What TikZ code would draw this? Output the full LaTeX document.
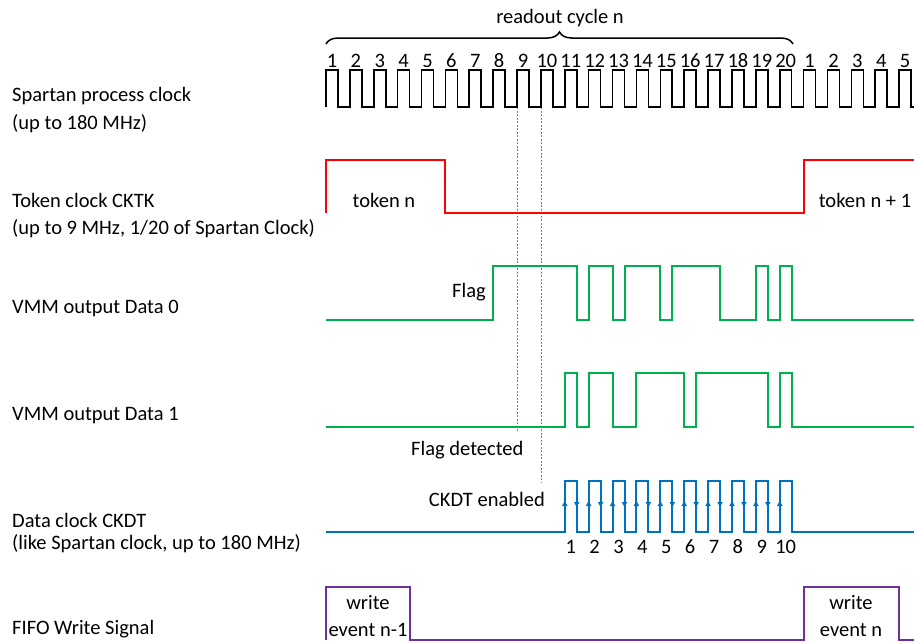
\documentclass[tikz,border=0pt]{standalone}
\usepackage{fontspec}
\setmainfont{Carlito}
\usetikzlibrary{arrows.meta, decorations.pathreplacing}
\definecolor{vmmgreen}{RGB}{0,176,80}
\definecolor{ckblue}{RGB}{0,112,192}
\definecolor{fifopurple}{RGB}{112,48,160}

\begin{document}
\begin{tikzpicture}[x=1pt, y=-1pt, font=\fontsize{20.5}{24}\selectfont,
    clk/.style={line width=1.6pt},
    tok/.style={line width=2pt, red},
    vmm/.style={line width=2pt, vmmgreen},
    ckdt/.style={line width=2pt, ckblue},
    fifo/.style={line width=2pt, fifopurple},
    guide/.style={gray, line width=0.8pt, dash pattern=on 2pt off 1.5pt},
    lbl/.style={anchor=base west, inner sep=0pt},
    txt/.style={anchor=base, inner sep=0pt}]
            \useasboundingbox (0,0) rectangle (914,643);
            \def\h{11.94}

            % Signal names
            \node[lbl] (spartan) at (12,101) {Spartan process clock};
            \node[lbl] (spartanf) at (12,129) {(up to 180 MHz)};
            \node[lbl] (token) at (12,207) {Token clock CKTK};
            \node[lbl] (tokenf) at (12,234) {(up to 9 MHz, 1/20 of Spartan Clock)};
            \node[lbl] (data0) at (12,313) {VMM output Data 0};
            \node[lbl] (data1) at (12,420) {VMM output Data 1};
            \node[lbl] (ckdt) at (12,527) {Data clock CKDT};
            \node[lbl] (ckdtf) at (12,549) {(like Spartan clock, up to 180 MHz)};
            \node[lbl] (fifo) at (12,634) {FIFO Write Signal};

            % Guide lines
            \draw[guide] ({326+16*\h},107) -- ({326+16*\h},432);
            \draw[guide] ({326+18*\h},107) -- ({326+18*\h},483);

            % Spartan clock
            \draw[clk] (326,107) \foreach \i in {1,...,25} { -- ++(0,-37) -- ++(\h,0) -- ++(0,37) -- ++(\h,0) };
            \foreach \i in {1,...,25} {
                \pgfmathtruncatemacro\n{mod(\i-1,20)+1}
                \node[txt] (c\i) at ({326+(2*\i-1.5)*\h},67) {\n};
            }
            \draw[line width=1.5pt, decorate, decoration={brace, amplitude=12pt}] (326,44) -- (793,44);
            \node[txt] (cycle) at (560,23) {readout cycle n};

            % Token clock
            \draw[tok] (326,213) |- ({326+10*\h},160) |- ({326+40*\h},213) |- (914,160);
            \node[txt] (tokn) at (384,207) {token n};
            \node[txt] (toknext) at (865,207) {token n + 1};

            % VMM data
            \draw[vmm] (326,320) \foreach \k/\lv in {14/266,21/320,22/266,24/320,25/266,28/320,29/266,33/320,36/266,37/320,38/266,39/320} { -| ({326+\k*\h},\lv) } -- (914,320);
            \draw[vmm] (326,427) \foreach \k/\lv in {20/373,21/427,22/373,24/427,26/373,30/427,31/373,37/427,38/373,39/427} { -| ({326+\k*\h},\lv) } -- (914,427);
            \node[txt, anchor=base east] (flag) at (486,297) {Flag};
            \node[txt, anchor=base west] (flagdet) at (411,455) {Flag detected};

            % Data clock
            \draw[ckdt] (326,532) \foreach \i in {1,...,10} { -| ({326+(2*\i+18)*\h},481) -| ({326+(2*\i+19)*\h},532) } -- (914,532);
            \foreach \i in {1,...,10} {
                \draw[ckdt, -{Latex[length=6pt, width=6pt]}] ({326+(2*\i+18)*\h},520) -- ({326+(2*\i+18)*\h},500);
                \node[txt] (d\i) at ({326+(2*\i+18.5)*\h},553) {\i};
            }
            \foreach \i in {1,...,9}
                \draw[ckdt, -{Latex[length=6pt, width=6pt]}] ({326+(2*\i+19)*\h},490) -- ({326+(2*\i+19)*\h},508);
            \node[txt, anchor=base east] (ckdten) at (545,506) {CKDT enabled};

            % FIFO write
            \draw[fifo] (326,640) |- ({326+7*\h},587) |- ({326+40*\h},640) |- ({326+48*\h},587) |- (914,640);
            \node[txt] (wr1) at (368,609) {write};
            \node[txt] (ev1) at (368,636) {event n-1};
            \node[txt] (wr2) at (851,609) {write};
            \node[txt] (ev2) at (851,636) {event n};
        \end{tikzpicture}
\end{document}
